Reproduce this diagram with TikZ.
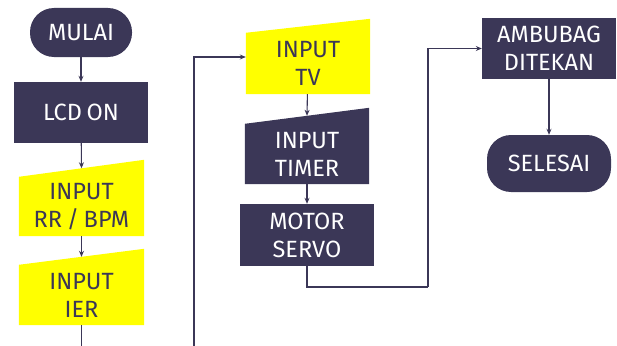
\documentclass[tikz,border=0pt]{standalone}
\usepackage{fontspec}
\setmainfont[WordSpace=0.75]{Fira Sans}
\usetikzlibrary{arrows.meta,calc,backgrounds}
\definecolor{navy}{HTML}{3B3757}
\definecolor{yel}{HTML}{FFFF00}
\tikzset{
  box/.style={draw=none,minimum width=#1,inner sep=0pt,align=center,font=\fontsize{23.5}{28}\selectfont},
  darkbox/.style={box=#1,fill=navy,text=white},
  yelbox/.style={box=#1,text=navy},
  term/.style={darkbox=#1,rounded corners=24pt},
  conn/.style={draw=navy,line width=1.1pt},
  arr/.style={conn,-{Stealth[length=6pt,width=5pt]}}
}
\begin{document}
\begin{tikzpicture}[x=1pt,y=1pt]
\useasboundingbox (0,0) rectangle (617,-345);
% nodes
\node[term=102,minimum height=49] (mulai) at (81,-32.5) {MULAI};
\node[darkbox=134,minimum height=61] (lcd) at (81,-112.5) {LCD ON};
\node[yelbox=125,minimum height=59] (rr) at (81.5,-206.5) {INPUT\\RR / BPM};
\node[yelbox=125,minimum height=60] (ier) at (81.5,-295) {INPUT\\IER};
\node[yelbox=124,minimum height=61] (tv) at (308,-63.5) {INPUT\\TV};
\node[box=124,minimum height=60,text=white] (timer) at (307,-154) {INPUT\\TIMER};
\node[darkbox=134,minimum height=62] (motor) at (307,-235) {MOTOR\\SERVO};
\node[darkbox=134,minimum height=61] (ambu) at (549,-48.5) {AMBUBAG\\DITEKAN};
\node[term=124,minimum height=57] (selesai) at (549,-163.5) {SELESAI};
% manual input shapes
\begin{scope}[on background layer]
\fill[yel] (rr.south west) -- (rr.south east) -- ($(rr.north east)+(0,17)$) -- (rr.north west) -- cycle;
\fill[yel] (ier.south west) -- (ier.south east) -- ($(ier.north east)+(0,16)$) -- (ier.north west) -- cycle;
\fill[yel] (tv.south west) -- (tv.south east) -- ($(tv.north east)+(0,14)$) -- (tv.north west) -- cycle;
\fill[navy] (timer.south west) -- (timer.south east) -- ($(timer.north east)+(0,16)$) -- (timer.north west) -- cycle;
\end{scope}
\coordinate (rrin) at ($(rr.north)+(0,8.5)$);
\coordinate (ierin) at ($(ier.north)+(0,8)$);
\coordinate (timerin) at ($(timer.north)+(0,8)$);
\coordinate (ierout) at (81.5,-346);
\coordinate (tvfrom) at (194,-346);
\coordinate (tvin) at ($(tv.west)+(0,6.5)$);
\coordinate (turn) at (428,-287);
% connectors
\draw[arr] (mulai) -- (lcd);
\draw[arr] (lcd) -- (rrin);
\draw[arr] (rr) -- (ierin);
\draw[conn] (ier.south) -- (ierout);
\draw[arr] (tvfrom) |- (tvin);
\draw[arr] (tv) -- (timerin);
\draw[arr] (timer) -- (motor);
\draw[conn] (motor.south) |- (turn);
\draw[arr] (turn) |- (ambu.west);
\draw[arr] (ambu) -- (selesai);
\end{tikzpicture}
\end{document}
